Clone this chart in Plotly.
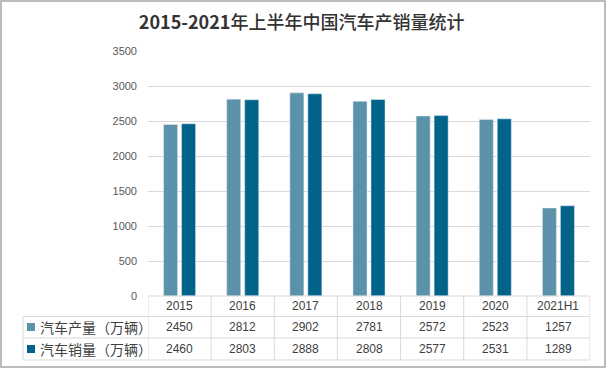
import plotly.graph_objects as go

categories = ["2015", "2016", "2017", "2018", "2019", "2020", "2021H1"]
production = [2450, 2812, 2902, 2781, 2572, 2523, 1257]
sales = [2460, 2803, 2888, 2808, 2577, 2531, 1289]
series_names = ["汽车产量（万辆）", "汽车销量（万辆）"]
y_ticks = [0, 500, 1000, 1500, 2000, 2500, 3000, 3500]

C_PROD = "#5C92A9"
C_SALE = "#01638A"
GRID = "#D9D9D9"
TXT = "#404040"

W, H = 607, 369
L, R, T, B = 148, 590, 51, 296


def px(x):
    return (x - L) / (R - L)


def py(y):
    return (B - y) / (B - T)


xs = list(range(len(categories)))
fig = go.Figure()
fig.add_trace(go.Bar(x=xs, y=production, name=series_names[0], marker_color=C_PROD))
fig.add_trace(go.Bar(x=xs, y=sales, name=series_names[1], marker_color=C_SALE))

shapes = []
line = dict(color=GRID, width=1)
# outer border
shapes.append(dict(type="rect", xref="paper", yref="paper", x0=px(1), x1=px(605), y0=py(367), y1=py(1),
                   line=dict(color="#A6A6A6", width=1.5), layer="below"))
# table horizontal lines
shapes.append(dict(type="line", xref="paper", yref="paper", x0=0, x1=1, y0=0, y1=0, line=line))
row_lines = [316.5, 338, 360]
for yy in row_lines:
    shapes.append(dict(type="line", xref="paper", yref="paper", x0=px(23), x1=1, y0=py(yy), y1=py(yy), line=line))
# vertical lines
for i in range(len(categories) + 1):
    shapes.append(dict(type="line", xref="x", yref="paper", x0=i - 0.5, x1=i - 0.5, y0=py(296), y1=py(360), line=line))
shapes.append(dict(type="line", xref="paper", yref="paper", x0=px(23), x1=px(23), y0=py(316.5), y1=py(360), line=line))

# legend keys
row_centers = [327, 349]
for yc, col in zip(row_centers, [C_PROD, C_SALE]):
    shapes.append(dict(type="rect", xref="paper", yref="paper", x0=px(27), x1=px(35), y0=py(yc + 4), y1=py(yc - 4),
                       fillcolor=col, line=dict(width=0)))

ann = []
num_font = dict(family="Liberation Sans, Arial", size=12, color=TXT)
for i, c in enumerate(categories):
    ann.append(dict(x=i, y=py(306), xref="x", yref="paper", text=c, showarrow=False, font=num_font,
                    xanchor="center", yanchor="middle"))
for vals, yc in zip([production, sales], row_centers):
    for i, v in enumerate(vals):
        ann.append(dict(x=i, y=py(yc), xref="x", yref="paper", text=str(v), showarrow=False, font=num_font,
                        xanchor="center", yanchor="middle"))
for name, yc in zip(series_names, row_centers):
    ann.append(dict(x=px(38), y=py(yc), xref="paper", yref="paper", text=name, showarrow=False,
                    font=dict(family="Noto Sans CJK SC", size=14, color=TXT), xanchor="left", yanchor="middle"))

fig.update_layout(
    width=W, height=H,
    margin=dict(l=L, r=W - R, t=T, b=H - B),
    paper_bgcolor="white", plot_bgcolor="white",
    showlegend=False,
    barmode="group", bargap=0.43, bargroupgap=0.22,
    title=dict(text="<b>2015-2021</b>年上半年中国汽车产销量统计", x=0.497, xref="container", y=1 - 23 / H,
               yref="container", xanchor="center", yanchor="middle",
               font=dict(family="Noto Sans CJK SC", size=18, color="#333333", weight=500)),
    xaxis=dict(range=[-0.5, len(categories) - 0.5], showticklabels=False, showgrid=False, zeroline=False,
               showline=False, ticks=""),
    yaxis=dict(range=[0, 3500], tickvals=y_ticks, showgrid=True, gridcolor=GRID, gridwidth=1, zeroline=False,
               showline=False, ticks="", ticklabelstandoff=10,
               tickfont=dict(family="Liberation Sans, Arial", size=11, color="#595959")),
    shapes=shapes, annotations=ann,
)

fig.write_html("out.html", config={"displayModeBar": False},
               post_script="document.body.style.margin='0';document.body.style.overflow='hidden';")
